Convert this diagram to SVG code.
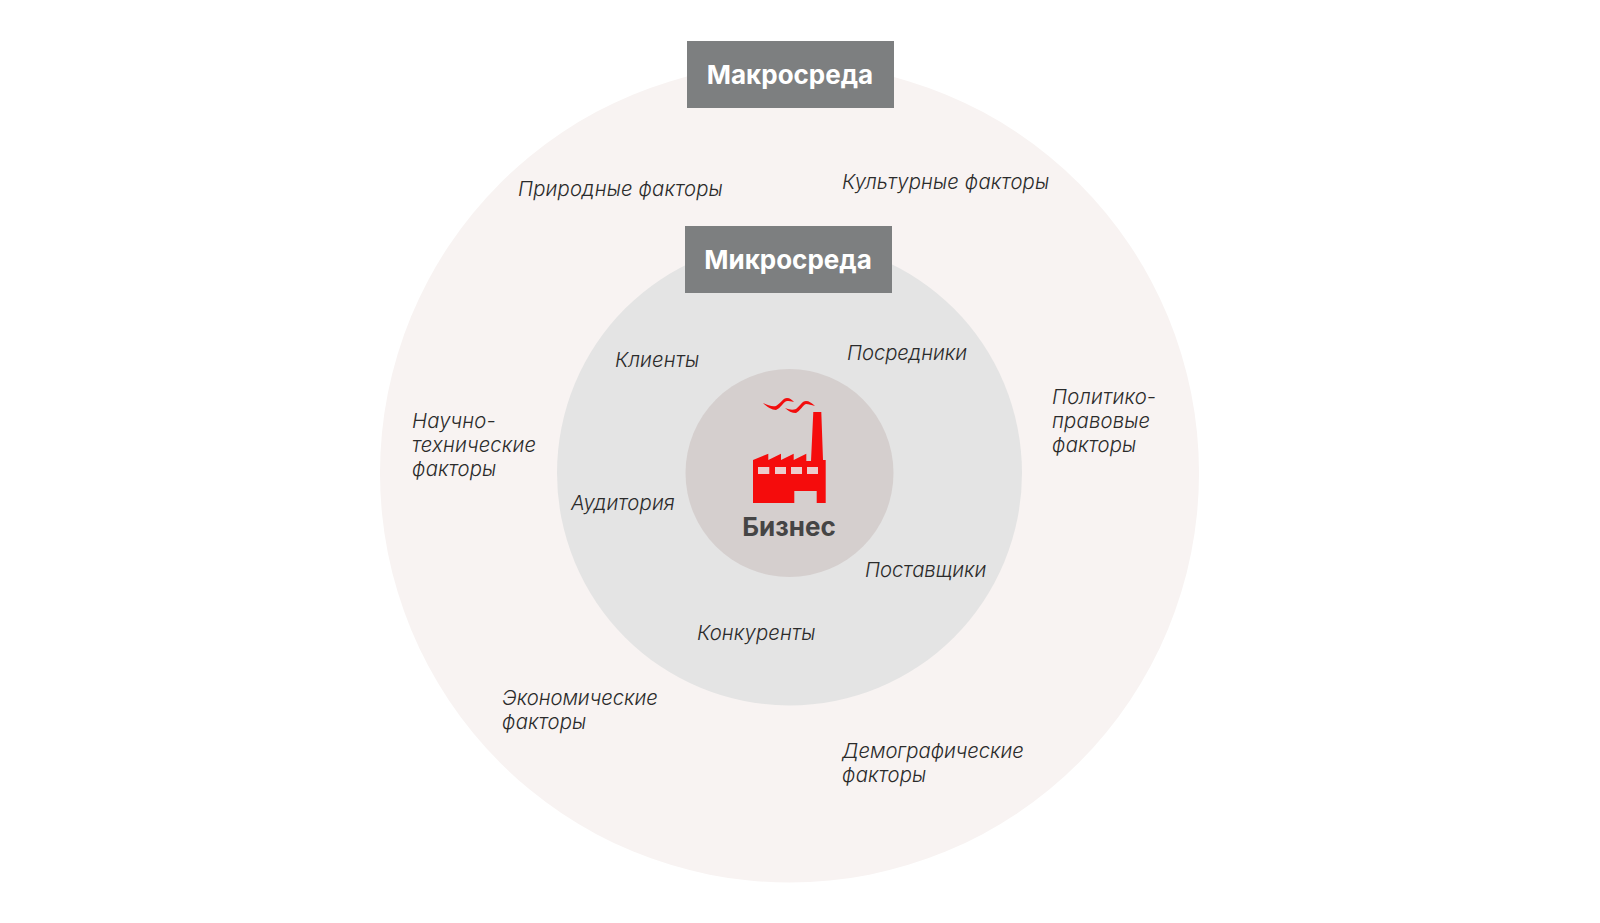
<svg xmlns="http://www.w3.org/2000/svg" width="1600" height="923" viewBox="0 0 1600 923">
<style>
.i{font-family:Inter,"Noto Sans",sans-serif;font-style:italic;font-weight:300;font-size:20.300px;letter-spacing:.15px;fill:#2b2b2b}
.n{letter-spacing:-.06px}
.h{font-family:Inter,"Noto Sans",sans-serif;font-weight:700;font-size:26px;fill:#fff;text-anchor:middle}
.b{fill:#7d7f80}
.w{fill:#eccccc}
.s{fill:#f20d0d}
</style>
<rect width="1600" height="923" fill="#fff"/>
<g id="macro-circle"><circle cx="789.500" cy="473" r="409.500" fill="#f8f3f2"/></g>
<g id="micro-circle"><circle cx="789.500" cy="473" r="232.500" fill="#e4e4e4"/></g>
<g id="business"><circle cx="789.500" cy="473" r="104" fill="#d5cfce"/>
<path fill="#f50c0c" d="M753 503V460L768.300 453.700V460L781 453.700V460L793.700 453.700V460L806.300 453.700V461H811L813.300 412H821.300L823 460H825.700V503H816.700V491H794.300V503Z"/>
<rect class="w" x="758" y="467" width="11.300" height="7"/><rect class="w" x="775" y="467" width="11" height="7"/><rect class="w" x="791" y="467" width="11" height="7"/><rect class="w" x="807" y="467" width="11" height="7"/>
<path class="s" d="M763 403C768 405 772 407 776 406C781 403 783 398 787 398C790 398 792 400 794 402C791 401 789 401 787 401C783 402 781 408 776 410C772 410 767 407 763 403Z"/>
<path class="s" d="M785 408C790 410 793 410 796 409C800 406 802 401 806 401C809 401 812 403 815 406C811 405 809 404 806 404C803 405 800 411 796 413C792 413 788 411 785 408Z"/>
<text x="789" y="536" font-family="Inter,'Noto Sans',sans-serif" font-weight="700" font-size="26" fill="#454545" text-anchor="middle">Бизнес</text></g>
<g id="macro-label"><rect class="b" x="687" y="41" width="207" height="67"/><text class="h" x="790" y="84">Макросреда</text></g>
<g id="micro-label"><rect class="b" x="685" y="226" width="207" height="67"/><text class="h" x="788" y="269">Микросреда</text></g>
<text class="i" x="518" y="196">Природные факторы</text>
<text class="i" x="842" y="189">Культурные факторы</text>
<text class="i" x="412" y="428">Научно-</text><text class="i" x="412" y="452">технические</text><text class="i" x="412" y="476">факторы</text>
<text class="i" x="1052" y="404">Политико-</text><text class="i" x="1052" y="428">правовые</text><text class="i" x="1052" y="452">факторы</text>
<text class="i n" x="502" y="705">Экономические</text><text class="i" x="502" y="729">факторы</text>
<text class="i n" x="842" y="758">Демографические</text><text class="i" x="842" y="782">факторы</text>
<text class="i" x="615" y="367">Клиенты</text>
<text class="i n" x="847" y="360">Посредники</text>
<text class="i" x="571" y="510">Аудитория</text>
<text class="i n" x="865" y="577">Поставщики</text>
<text class="i" x="697" y="640">Конкуренты</text>
</svg>
